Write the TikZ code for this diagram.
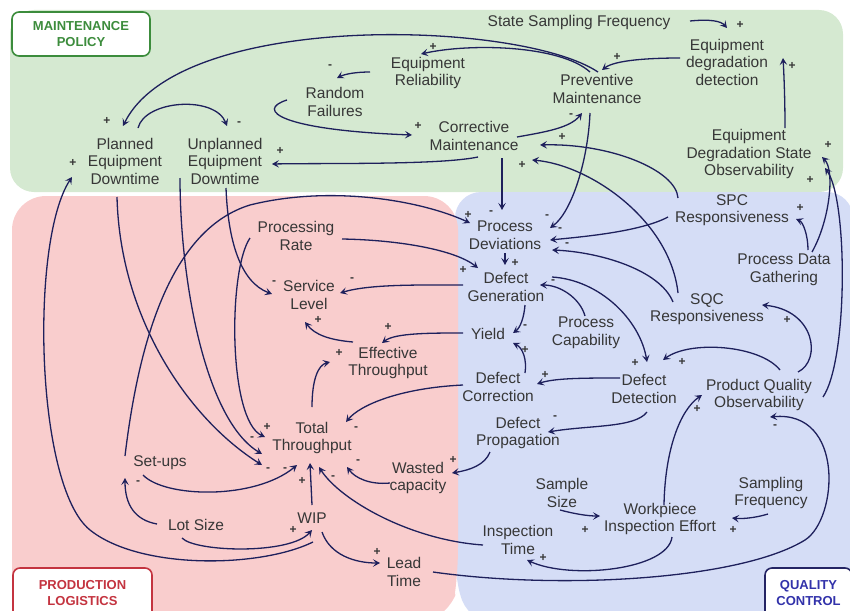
\documentclass[tikz,border=0pt]{standalone}
\usepackage{fontspec}
\setmainfont{Liberation Sans}
\usetikzlibrary{arrows.meta}

\definecolor{greenbg}{RGB}{213,233,209}
\definecolor{pinkbg}{RGB}{249,205,205}
\definecolor{bluebg}{RGB}{213,221,246}
\definecolor{txt}{RGB}{55,55,55}
\definecolor{linkcol}{RGB}{30,32,92}
\definecolor{mpgreen}{RGB}{60,140,60}
\definecolor{plred}{RGB}{196,52,64}
\definecolor{qcblue}{RGB}{50,50,170}
\definecolor{qcborder}{RGB}{36,36,100}

\newcounter{polcount}
\newcommand\polmark[3]{\stepcounter{polcount}\node[polarity] (pol\arabic{polcount}) at (#1,#2) {#3};}

\tikzset{
  var/.style={align=center, text=txt, inner sep=1pt,
    font=\fontsize{15.5}{17.5}\selectfont},
  polarity/.style={text=txt, inner sep=0pt,
    font=\fontsize{12}{12}\selectfont\bfseries},
  link/.style={draw=linkcol, line width=1.3pt,
    -{Stealth[length=7pt,width=7.5pt,inset=3pt]}},
  areabox/.style={draw, fill=white, line width=1.6pt, rounded corners=7pt,
    align=center, inner sep=0pt, font=\fontsize{13}{16.5}\selectfont\bfseries},
}

\begin{document}
\begin{tikzpicture}[x=1pt,y=-1pt]
\useasboundingbox (0,0) rectangle (850,610);

% ---------- areas ----------
\fill[greenbg, rounded corners=24pt] (10,10) rectangle (843,192);
\fill[bluebg] (472,625) .. controls (462,600) and (455,585) .. (455,545)
  [rounded corners=26pt] -- (455,192) -- (853,192) -- (853,625) -- cycle;
\fill[pinkbg] (445,625) .. controls (452,605) and (458,585) .. (458,545)
  [rounded corners=34pt] -- (458,196) -- (12,196) -- (12,640) -- cycle;

\node[areabox, draw=mpgreen, text=mpgreen, minimum width=138pt, minimum height=44pt]
  (mpbox) at (81,34) {MAINTENANCE\\POLICY};
\node[areabox, draw=plred, text=plred, minimum width=139pt, minimum height=50pt]
  (plbox) at (82.5,593) {PRODUCTION\\LOGISTICS};
\node[areabox, draw=qcborder, text=qcblue, minimum width=87pt, minimum height=50pt]
  (qcbox) at (808.5,593) {QUALITY\\CONTROL};

% ---------- variables ----------
\node[var] (ssf)  at (579,22)  {State Sampling Frequency};
\node[var] (edd)  at (727,62)  {Equipment\\degradation\\detection};
\node[var] (er)   at (428,73)  {Equipment\\Reliability};
\node[var] (rf)   at (335,102) {Random\\Failures};
\node[var] (pm)   at (597,89)  {Preventive\\Maintenance};
\node[var] (cm)   at (474,136) {Corrective\\Maintenance};
\node[var] (ped)  at (125,161) {Planned\\Equipment\\Downtime};
\node[var] (ued)  at (225,161) {Unplanned\\Equipment\\Downtime};
\node[var] (edso) at (749,154) {Equipment\\Degradation State\\Observability};
\node[var] (spc)  at (732,210) {SPC\\Responsiveness};
\node[var] (pdg)  at (784,270) {Process Data\\Gathering};
\node[var] (sqc)  at (707,309) {SQC\\Responsiveness};
\node[var] (pd)   at (505,235) {Process\\Deviations};
\node[var] (dg)   at (506,287) {Defect\\Generation};
\node[var] (yl)   at (488,334) {Yield};
\node[var] (pc)   at (586,333) {Process\\Capability};
\node[var] (dc)   at (498,387) {Defect\\Correction};
\node[var] (dd)   at (644,389) {Defect\\Detection};
\node[var] (pqo)  at (759,395) {Product Quality\\Observability};
\node[var] (pr)   at (296,236) {Processing\\Rate};
\node[var] (sl)   at (309,295) {Service\\Level};
\node[var] (et)   at (388,363) {Effective\\Throughput};
\node[var] (tt)   at (312,438) {Total\\Throughput};
\node[var] (su)   at (160,463) {Set-ups};
\node[var] (ls)   at (196,525) {Lot Size};
\node[var] (wip)  at (312,518) {WIP};
\node[var] (lt)   at (404,572) {Lead\\Time};
\node[var] (wc)   at (418,478) {Wasted\\capacity};
\node[var] (dp)   at (518,433) {Defect\\Propagation};
\node[var] (ss)   at (562,493) {Sample\\Size};
\node[var] (wie)  at (660,519) {Workpiece\\Inspection Effort};
\node[var] (sf)   at (771,493) {Sampling\\Frequency};
\node[var] (it)   at (518,540) {Inspection\\Time};

% ---------- causal links ----------
% maintenance policy
\draw[link] ([shift={(111,-1)}]ssf.center) .. controls (710,19) and (721,21) .. ([shift={(0,-34)}]edd.center);
\draw[link] ([shift={(-47,-4)}]edd.center) .. controls (650,58) and (615,60) .. ([shift={(5,-19)}]pm.center);
\draw[link] ([shift={(-7,-17)}]pm.center) .. controls (560,45) and (470,43) .. ([shift={(-7,-19)}]er.center);
\draw[link] ([shift={(1,-17)}]pm.center) .. controls (520,20) and (180,10) .. ([shift={(-2,-35)}]ped.center);
\draw[link] ([shift={(-58,-1)}]er.center) .. controls (356,72) and (345,74) .. ([shift={(2,-24)}]rf.center);
\draw[link] ([shift={(-48,-2)}]rf.center) .. controls (255,110) and (280,130) .. ([shift={(-62,-1)}]cm.center);
\draw[link] ([shift={(4,21)}]cm.center) .. controls (440,165) and (330,163) .. ([shift={(47,3)}]ued.center);
\draw[link] ([shift={(43,1)}]cm.center) .. controls (545,132) and (570,128) .. ([shift={(-15,24)}]pm.center);
\draw[link] ([shift={(13,-33)}]ped.center) .. controls (145,100) and (215,95) .. ([shift={(2,-35)}]ued.center);
\draw[link] ([shift={(-7,24)}]pm.center) .. controls (588,160) and (572,212) .. ([shift={(45,-7)}]pd.center);
\draw[link] ([shift={(28,22)}]cm.center) -- ([shift={(-3,-25)}]pd.center);
\draw[link] ([shift={(36,-26)}]edso.center) .. controls (785,100) and (784,75) .. ([shift={(56,-4)}]edd.center);

% production logistics
\draw[link] ([shift={(-35,-7)}]su.center) .. controls (140,330) and (175,228) .. (250,205)
  .. controls (330,185) and (420,200) .. ([shift={(-35,-12)}]pd.center);
\draw[link] ([shift={(46,3)}]pr.center) .. controls (400,240) and (455,250) .. ([shift={(-28,-19)}]dg.center);
\draw[link] ([shift={(-46,2)}]pr.center) .. controls (228,270) and (228,420) .. ([shift={(-47,-1)}]tt.center);
\draw[link] ([shift={(-8,36)}]ped.center) .. controls (120,320) and (190,420) .. ([shift={(-50,27)}]tt.center);
\draw[link] ([shift={(-45,17)}]ued.center) .. controls (180,280) and (205,420) .. ([shift={(-50,16)}]tt.center);
\draw[link] ([shift={(1,27)}]ued.center) .. controls (228,240) and (240,282) .. ([shift={(-37,-1)}]sl.center);
\draw[link] ([shift={(-17,12)}]su.center) .. controls (165,498) and (255,500) .. ([shift={(-15,27)}]tt.center);
\draw[link] ([shift={(-39,-1)}]ls.center) .. controls (135,520) and (125,505) .. ([shift={(-35,15)}]su.center);
\draw[link] ([shift={(-14,13)}]ls.center) .. controls (195,552) and (290,555) .. ([shift={(0,12)}]wip.center);
\draw[link] ([shift={(1,24)}]wip.center) .. controls (260,568) and (140,570) .. (90,530)
  .. controls (35,486) and (30,240) .. ([shift={(-53,16)}]ped.center);
\draw[link] ([shift={(0,-13)}]wip.center) -- ([shift={(-2,25)}]tt.center);
\draw[link] ([shift={(10,14)}]wip.center) .. controls (330,555) and (355,563) .. ([shift={(-24,-9)}]lt.center);
\draw[link] ([shift={(29,0)}]lt.center) .. controls (560,590) and (740,580) .. (805,540)
  .. controls (838,519) and (845,410) .. ([shift={(11,22)}]pqo.center);
\draw[link] ([shift={(-35,-2)}]dc.center) .. controls (400,388) and (360,405) .. ([shift={(34,-16)}]tt.center);
\draw[link] ([shift={(-35,-21)}]et.center) .. controls (330,340) and (315,335) .. ([shift={(-4,27)}]sl.center);
\draw[link] ([shift={(0,-31)}]tt.center) .. controls (312,380) and (318,365) .. ([shift={(-58,-1)}]et.center);
\draw[link] ([shift={(-43,-2)}]dg.center) .. controls (420,285) and (370,284) .. ([shift={(31,-2)}]sl.center);
\draw[link] ([shift={(-25,-1)}]yl.center) .. controls (430,333) and (395,333) .. ([shift={(-6,-20)}]et.center);
\draw[link] ([shift={(-35,5)}]it.center) .. controls (410,540) and (340,500) .. ([shift={(7,29)}]tt.center);
\draw[link] ([shift={(-28,5)}]wc.center) .. controls (370,485) and (355,478) .. ([shift={(35,29)}]tt.center);

% quality control
\draw[link] ([shift={(-28,19)}]dp.center) .. controls (485,465) and (470,470) .. ([shift={(34,-5)}]wc.center);
\draw[link] ([shift={(3,23)}]dd.center) .. controls (635,428) and (590,425) .. ([shift={(30,-1)}]dp.center);
\draw[link] ([shift={(-24,-11)}]dd.center) .. controls (585,378) and (555,378) .. ([shift={(39,-3)}]dc.center);
\draw[link] ([shift={(27,-14)}]dc.center) .. controls (527,360) and (523,348) .. ([shift={(25,9)}]yl.center);
\draw[link] ([shift={(19,18)}]dg.center) .. controls (524,318) and (520,328) .. ([shift={(25,-1)}]yl.center);
\draw[link] ([shift={(0,18)}]pd.center) -- ([shift={(-1,-22)}]dg.center);
\draw[link] ([shift={(-1,-17)}]pc.center) .. controls (580,298) and (560,285) .. ([shift={(34,-2)}]dg.center);
\draw[link] ([shift={(46,-10)}]dg.center) .. controls (600,280) and (640,320) .. ([shift={(3,-27)}]dd.center);
\draw[link] ([shift={(21,-25)}]pqo.center) .. controls (760,345) and (690,340) .. ([shift={(19,-29)}]dd.center);
\draw[link] ([shift={(39,-23)}]pqo.center) .. controls (822,360) and (815,310) .. ([shift={(55,-4)}]sqc.center);
\draw[link] ([shift={(64,2)}]pqo.center) .. controls (848,360) and (848,200) .. ([shift={(76,14)}]edso.center);
\draw[link] ([shift={(28,-18)}]pdg.center) .. controls (830,220) and (835,170) .. ([shift={(73,3)}]edso.center);
\draw[link] ([shift={(24,-20)}]pdg.center) .. controls (808,235) and (803,222) .. ([shift={(64,9)}]spc.center);
\draw[link] ([shift={(-64,7)}]spc.center) .. controls (640,232) and (580,237) .. ([shift={(45,5)}]pd.center);
\draw[link] ([shift={(-34,-7)}]sqc.center) .. controls (660,270) and (600,252) .. ([shift={(47,15)}]pd.center);
\draw[link] ([shift={(-54,-12)}]spc.center) .. controls (676,170) and (610,143) .. ([shift={(66,9)}]cm.center);
\draw[link] ([shift={(-29,-16)}]sqc.center) .. controls (670,220) and (590,165) .. ([shift={(58,24)}]cm.center);
\draw[link] ([shift={(12,18)}]wie.center) .. controls (668,570) and (570,580) .. ([shift={(9,20)}]it.center);
\draw[link] ([shift={(4,-14)}]wie.center) .. controls (665,450) and (680,410) .. ([shift={(-57,0)}]pqo.center);
\draw[link] ([shift={(-2,17)}]ss.center) .. controls (575,514) and (588,516) .. ([shift={(-60,-3)}]wie.center);
\draw[link] ([shift={(-3,21)}]sf.center) .. controls (755,518) and (742,519) .. ([shift={(72,-1)}]wie.center);

% ---------- link polarities ----------
\polmark{740}{25}{+}
\polmark{617}{57}{+}
\polmark{433}{47}{+}
\polmark{107}{121}{+}
\polmark{330}{67}{-}
\polmark{418}{126}{+}
\polmark{280}{151}{+}
\polmark{571}{116}{-}
\polmark{239}{124}{-}
\polmark{73}{163}{+}
\polmark{792}{66}{+}
\polmark{562}{137}{+}
\polmark{522}{165}{+}
\polmark{828}{145}{+}
\polmark{810}{180}{+}
\polmark{800}{208}{+}
\polmark{491}{213}{-}
\polmark{468}{215}{+}
\polmark{547}{217}{-}
\polmark{560}{230}{-}
\polmark{567}{245}{-}
\polmark{515}{263}{+}
\polmark{463}{270}{+}
\polmark{553}{282}{-}
\polmark{635}{363}{+}
\polmark{682}{362}{+}
\polmark{787}{320}{+}
\polmark{525}{327}{-}
\polmark{525}{350}{+}
\polmark{388}{327}{+}
\polmark{352}{280}{-}
\polmark{274}{283}{-}
\polmark{318}{320}{+}
\polmark{339}{353}{+}
\polmark{545}{375}{+}
\polmark{356}{429}{-}
\polmark{267}{427}{+}
\polmark{252}{439}{-}
\polmark{268}{470}{-}
\polmark{285}{470}{-}
\polmark{302}{481}{+}
\polmark{333}{478}{-}
\polmark{358}{462}{-}
\polmark{453}{460}{+}
\polmark{555}{418}{-}
\polmark{138}{483}{-}
\polmark{293}{530}{+}
\polmark{377}{552}{+}
\polmark{775}{427}{-}
\polmark{697}{409}{+}
\polmark{543}{558}{+}
\polmark{585}{530}{+}
\polmark{733}{530}{+}
\end{tikzpicture}
\end{document}
